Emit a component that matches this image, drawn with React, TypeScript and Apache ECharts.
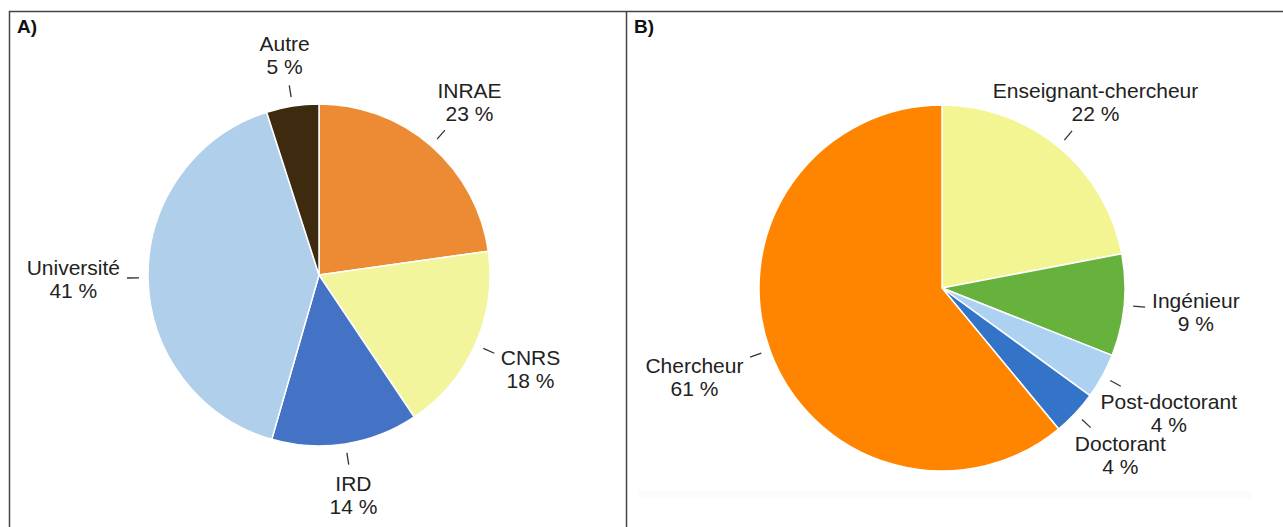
import React, { useEffect, useRef } from "react";
import * as echarts from "echarts";

const catsA = ["INRAE", "CNRS", "IRD", "Université", "Autre"];
const valsA = [23, 18, 14, 41, 5];
const colorsA = ["#EC8B33", "#F2F59B", "#4472C4", "#B0CFEA", "#3E2A0F"];

const catsB = ["Enseignant-chercheur", "Ingénieur", "Post-doctorant", "Doctorant", "Chercheur"];
const valsB = [22, 9, 4, 4, 61];
const colorsB = ["#F2F591", "#66B23D", "#ADD1F0", "#3474C8", "#FF8500"];

const GAP = 9;
const LEN = 12;
const PAD = 7;

function makeLayout(values: number[], cx: number, cy: number, r: number) {
  const total = values.reduce((a, b) => a + b, 0);
  return (p: any) => {
    let before = 0;
    for (let i = 0; i < p.dataIndex; i++) before += values[i];
    const mid = ((before + values[p.dataIndex] / 2) / total) * 2 * Math.PI;
    const dx = Math.sin(mid);
    const dy = -Math.cos(mid);
    const ex = cx + r * dx;
    const ey = cy + r * dy;
    const s = [ex + dx * GAP, ey + dy * GAP];
    const e = [ex + dx * (GAP + LEN), ey + dy * (GAP + LEN)];
    const w = p.labelRect.width;
    const h = p.labelRect.height;
    const tx = Math.abs(dx) > 1e-6 ? w / 2 / Math.abs(dx) : Infinity;
    const ty = Math.abs(dy) > 1e-6 ? h / 2 / Math.abs(dy) : Infinity;
    const t = Math.min(tx, ty);
    return {
      x: e[0] + dx * (t + PAD),
      y: e[1] + dy * (t + PAD),
      align: "center",
      verticalAlign: "middle",
      labelLinePoints: [s, e, e],
    };
  };
}

function pieSeries(cats: string[], vals: number[], colors: string[], cx: number, cy: number, r: number) {
  return {
    type: "pie",
    center: [cx, cy],
    radius: [0, r],
    startAngle: 90,
    clockwise: true,
    avoidLabelOverlap: false,
    itemStyle: { borderColor: "#ffffff", borderWidth: 1.5 },
    label: {
      show: true,
      position: "outside",
      formatter: (p: any) => `${p.name}\n${p.value} %`,
      fontFamily: "Liberation Sans, Arial, sans-serif",
      fontSize: 21,
      lineHeight: 23,
      color: "#222222",
      align: "center",
    },
    labelLine: { show: true, length: LEN, length2: 0, lineStyle: { color: "#333333", width: 1.3 } },
    labelLayout: makeLayout(vals, cx, cy, r),
    emphasis: { disabled: true },
    data: cats.map((c, i) => ({ name: c, value: vals[i], itemStyle: { color: colors[i] } })),
  };
}

export default function App() {
  const ref = useRef<HTMLDivElement>(null);
  useEffect(() => {
    if (!ref.current) return;
    const chart = echarts.init(ref.current, undefined, { renderer: "svg" });
    const lineStyle = { stroke: "#444444", lineWidth: 1.5 };
    chart.setOption({
      animation: false,
      backgroundColor: "#ffffff",
      graphic: [
        { type: "rect", shape: { x: 639, y: 491, width: 613, height: 7 }, style: { fill: "#fbfbfb" }, silent: true },
        { type: "line", shape: { x1: 9, y1: 11.5, x2: 1283, y2: 11.5 }, style: lineStyle },
        { type: "line", shape: { x1: 9.5, y1: 11, x2: 9.5, y2: 527 }, style: lineStyle },
        { type: "line", shape: { x1: 626.5, y1: 11, x2: 626.5, y2: 527 }, style: lineStyle },
        {
          type: "text",
          style: { text: "A)", x: 17, y: 17, fontFamily: "Liberation Sans, Arial, sans-serif", fontWeight: "bold", fontSize: 19, fill: "#111111", verticalAlign: "top" },
        },
        {
          type: "text",
          style: { text: "B)", x: 634, y: 17, fontFamily: "Liberation Sans, Arial, sans-serif", fontWeight: "bold", fontSize: 19, fill: "#111111", verticalAlign: "top" },
        },
      ],
      series: [
        pieSeries(catsA, valsA, colorsA, 319, 275, 171),
        pieSeries(catsB, valsB, colorsB, 942, 288, 183),
      ],
    });
    return () => chart.dispose();
  }, []);
  return <div ref={ref} style={{ position: "absolute", left: 0, top: 0, width: 1283, height: 527 }} />;
}
